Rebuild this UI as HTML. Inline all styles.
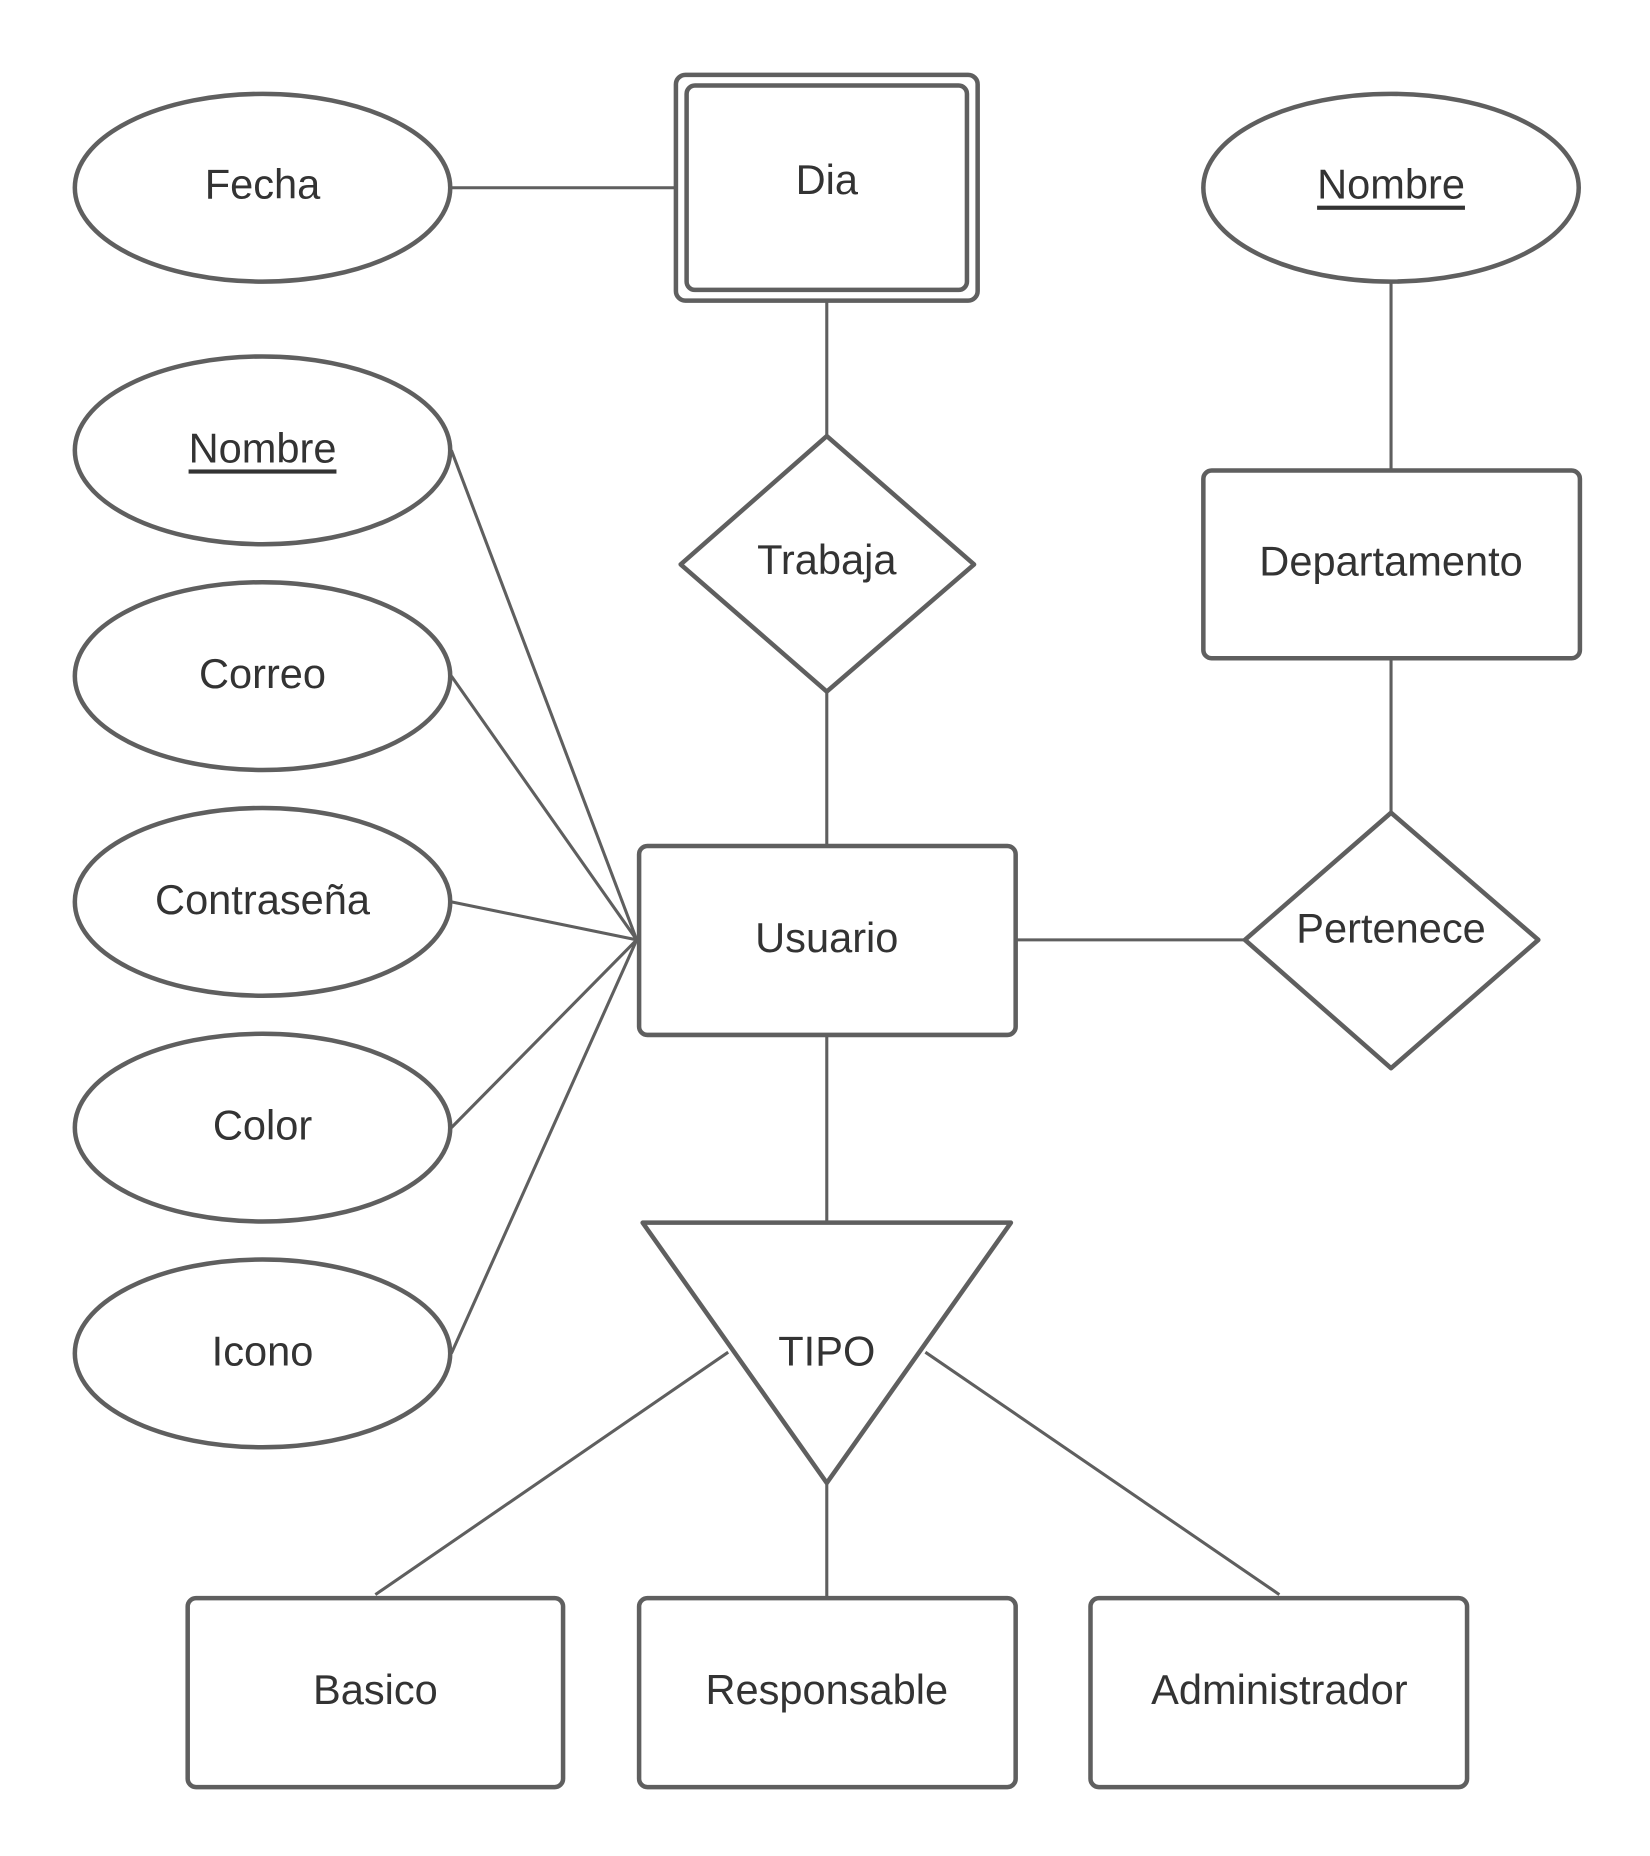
<!DOCTYPE html>
<html><head><meta charset="utf-8"><style>
html,body{margin:0;padding:0;background:#fff;}
svg{display:block;}
text{font-family:"Liberation Sans",Arial,sans-serif;font-size:35px;fill:#333;text-anchor:middle;dominant-baseline:central;}
</style></head><body>
<svg width="1650" height="1856" viewBox="0 0 1389 1562" preserveAspectRatio="none" xmlns="http://www.w3.org/2000/svg">
<g stroke="#5f5f5f" stroke-width="2.6" fill="none">
<line x1="380" y1="158" x2="569" y2="158"/>
<line x1="1171" y1="237" x2="1171" y2="396"/>
<line x1="1171" y1="554" x2="1171" y2="684"/>
<line x1="855" y1="791" x2="1048" y2="791"/>
<line x1="696" y1="253" x2="696" y2="367"/>
<line x1="696" y1="582" x2="696" y2="712"/>
<line x1="696" y1="871" x2="696" y2="1029"/>
<line x1="380" y1="379" x2="536" y2="791"/>
<line x1="380" y1="569" x2="536" y2="791"/>
<line x1="380" y1="759" x2="536" y2="791"/>
<line x1="380" y1="949" x2="536" y2="791"/>
<line x1="380" y1="1139" x2="536" y2="791"/>
<line x1="613" y1="1138" x2="316" y2="1342"/>
<line x1="696" y1="1248" x2="696" y2="1345"/>
<line x1="779" y1="1138" x2="1077" y2="1342"/>
</g>
<g stroke="#5f5f5f" stroke-width="3.8" fill="#fff" stroke-linejoin="round">
<ellipse cx="221" cy="158" rx="158" ry="79"/>
<ellipse cx="1171" cy="158" rx="158" ry="79"/>
<ellipse cx="221" cy="379" rx="158" ry="79"/>
<ellipse cx="221" cy="569" rx="158" ry="79"/>
<ellipse cx="221" cy="759" rx="158" ry="79"/>
<ellipse cx="221" cy="949" rx="158" ry="79"/>
<ellipse cx="221" cy="1139" rx="158" ry="79"/>
<rect x="569" y="63" width="254" height="190" rx="8"/>
<rect x="578" y="72" width="236" height="172" rx="7"/>
<rect x="1013" y="396" width="317" height="158" rx="7"/>
<rect x="538" y="712" width="317" height="159" rx="7"/>
<rect x="158" y="1345" width="316" height="159" rx="7"/>
<rect x="538" y="1345" width="317" height="159" rx="7"/>
<rect x="918" y="1345" width="317" height="159" rx="7"/>
<polygon points="696,367 820,475 696,582 573,475"/>
<polygon points="1171,684 1295,791 1171,899 1048,791"/>
<polygon points="541,1029 851,1029 696,1248"/>
</g>
<text x="221" y="155">Fecha</text>
<text x="696" y="151">Dia</text>
<text x="1171" y="155" text-decoration="underline">Nombre</text>
<text x="221" y="377" text-decoration="underline">Nombre</text>
<text x="221" y="567">Correo</text>
<text x="221" y="757">Contraseña</text>
<text x="221" y="947">Color</text>
<text x="221" y="1137">Icono</text>
<text x="696" y="471">Trabaja</text>
<text x="1171" y="472">Departamento</text>
<text x="696" y="789">Usuario</text>
<text x="1171" y="781">Pertenece</text>
<text x="696" y="1137">TIPO</text>
<text x="316" y="1422">Basico</text>
<text x="696" y="1422">Responsable</text>
<text x="1077" y="1422">Administrador</text>
</svg>
</body></html>
